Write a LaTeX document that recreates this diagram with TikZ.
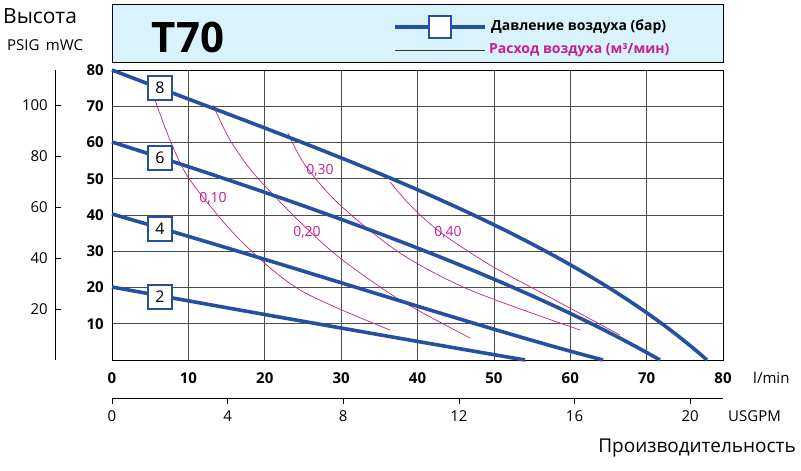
\documentclass[tikz,border=0pt]{standalone}
\usepackage{fontspec}
\setmainfont{Open Sans}
\definecolor{pblue}{RGB}{35,80,160}
\definecolor{pmag}{RGB}{200,30,140}
\begin{document}
\begin{tikzpicture}[x=1pt,y=-1pt,
  lbl/.style={inner sep=1pt},
  bar/.style={draw=pblue,line width=3.6pt},
  barbox/.style={draw=pblue,line width=2.8pt,fill=white,minimum size=24pt,inner sep=0pt,font=\fontsize{16}{18}\selectfont},
  air/.style={draw=pmag,line width=0.7pt},
  airlbl/.style={text=pmag,font=\fontsize{14}{16}\selectfont,inner sep=1pt},
  grid/.style={draw=black!70,line width=0.6pt}]
\useasboundingbox (0,0) rectangle (801,471);
% header
\node[draw,fill=cyan!15,minimum width=611pt,minimum height=58pt,anchor=north west,inner sep=0pt] (hdr) at (112,4) {};
\node[font=\fontsize{42}{44}\selectfont\bfseries] (t70) at (188,37) {T70};
\coordinate (la) at (395,27); \coordinate (lb) at (485,27);
\draw[bar] (la) -- (lb);
\node[barbox,minimum size=22pt] (lsq) at (440,27) {};
\coordinate (lc) at (395,50); \coordinate (ld) at (485,50);
\draw[draw=black!80,line width=0.5pt] (lc) -- (ld);
\node[lbl,anchor=west,font=\fontsize{14}{16}\selectfont\bfseries] (l1) at (490,27) {Давление воздуха (бар)};
\node[lbl,anchor=west,text=pmag,font=\fontsize{14}{16}\selectfont\bfseries] (l2) at (488,50) {Расход воздуха (м³/мин)};
% plot grid
\foreach \i in {1,...,7} \draw[grid] ({112+76.375*\i},70) -- ({112+76.375*\i},360);
\foreach \j in {1,...,7} \draw[grid] (112,{70+36.25*\j}) -- (723,{70+36.25*\j});
\draw[line width=0.8pt] (112,70) rectangle (723,360);
% mWC labels
\foreach \v in {10,20,...,80} \node[lbl,anchor=east,font=\fontsize{15}{17}\selectfont\bfseries] at (105,{360-3.625*\v}) {\v};
% PSIG axis
\draw[line width=0.6pt] (55,70) -- (55,360);
\foreach \p in {20,40,...,100} {\draw (55,{360-3.625*0.7031*\p}) -- (61,{360-3.625*0.7031*\p});
  \node[lbl,anchor=east,font=\fontsize{15}{17}\selectfont] at (49,{360-3.625*0.7031*\p}) {\p};}
\node[anchor=west,font=\fontsize{21}{23}\selectfont,inner sep=1pt] (vys) at (2,16) {Высота};
\node[anchor=west,font=\fontsize{15}{17}\selectfont,inner sep=1pt] (psig) at (6,45) {PSIG\, mWC};
% l/min
\foreach \v in {0,10,...,80} \node[lbl,font=\fontsize{15}{17}\selectfont\bfseries] at ({112+7.6375*\v},378) {\v};
\node[lbl,anchor=west,font=\fontsize{15}{17}\selectfont] (lmin) at (752,378) {l/min};
% USGPM
\draw[line width=0.6pt] (112,398) -- (723,398);
\foreach \u in {0,4,...,20} {\draw ({112+7.6375*3.785*\u},398) -- ({112+7.6375*3.785*\u},404);
  \node[lbl,font=\fontsize{15}{17}\selectfont] at ({112+7.6375*3.785*\u},416) {\u};}
\node[lbl,anchor=west,font=\fontsize{15}{17}\selectfont] (usg) at (727,416) {USGPM};
\node[anchor=east,font=\fontsize{19}{21}\selectfont,inner sep=1pt] (prod) at (797,448) {Производительность};
% air curves
\draw[air] plot[smooth] coordinates {(155,100) (170,140) (190,180) (240,240) (300,290) (390,330)};
\draw[air] plot[smooth] coordinates {(213,105) (230,140) (255,175) (300,222) (340,258) (400,300) (470,338)};
\draw[air] plot[smooth] coordinates {(288,133) (305,165) (340,205) (400,253) (470,290) (580,330)};
\draw[air] plot[smooth] coordinates {(390,182) (410,205) (440,232) (490,265) (540,292) (620,335)};
\node[airlbl] (a1) at (213,198) {0,10};
\node[airlbl] (a2) at (307,232) {0,20};
\node[airlbl] (a3) at (320,170) {0,30};
\node[airlbl] (a4) at (448,232) {0,40};
% bar curves
\coordinate (s8) at (112,70); \coordinate (e8) at (707,360);
\coordinate (s6) at (112,142); \coordinate (e6) at (660,360);
\coordinate (s4) at (112,214); \coordinate (e4) at (603,360);
\coordinate (s2) at (112,287); \coordinate (e2) at (525,360);
\draw[bar] (s8) .. controls (320,150) and (560,230) .. (e8);
\draw[bar] (s6) .. controls (320,208) and (520,280) .. (e6);
\draw[bar] (s4) .. controls (300,268) and (470,325) .. (e4);
\draw[bar] (s2) .. controls (260,314) and (420,342) .. (e2);
\node[barbox] (b8) at (160,88) {8};
\node[barbox] (b6) at (160,158) {6};
\node[barbox] (b4) at (160,229) {4};
\node[barbox] (b2) at (160,297) {2};
\end{tikzpicture}
\end{document}
